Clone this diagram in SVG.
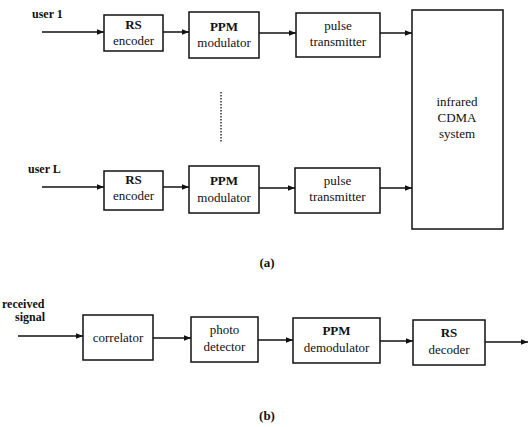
<svg xmlns="http://www.w3.org/2000/svg" width="528" height="427" viewBox="0 0 528 427">
<style>
  .box { fill: #fff; stroke: #111; stroke-width: 1.5; }
  .lbl { font-family: "Liberation Serif", "Times New Roman", serif; font-size: 13px; fill: #111; text-anchor: middle; }
  .b { font-weight: bold; }
  .side { font-family: "Liberation Serif", "Times New Roman", serif; font-size: 12px; fill: #111; font-weight: bold; }
  .conn { stroke: #111; stroke-width: 1.5; fill: none; marker-end: url(#ah); }
</style>
<defs>
  <marker id="ah" viewBox="0 0 10 10" refX="10" refY="5" markerWidth="7" markerHeight="7" markerUnits="userSpaceOnUse" orient="auto">
    <path d="M0,1 L10,5 L0,9 Z" fill="#111"/>
  </marker>
</defs>
<rect width="528" height="427" fill="#fff"/>

<g id="connectors">
  <line class="conn" x1="42" y1="32" x2="104" y2="32"/>
  <line class="conn" x1="163" y1="32" x2="189" y2="32"/>
  <line class="conn" x1="259" y1="33" x2="296" y2="33"/>
  <line class="conn" x1="380" y1="33" x2="412" y2="33"/>
  <line class="conn" x1="42" y1="187" x2="104" y2="187"/>
  <line class="conn" x1="163" y1="187" x2="189" y2="187"/>
  <line class="conn" x1="259" y1="188" x2="295" y2="188"/>
  <line class="conn" x1="380" y1="188" x2="412" y2="188"/>
  <line x1="221" y1="92" x2="221" y2="143" stroke="#111" stroke-width="1.3" stroke-dasharray="1.5,1.5"/>
  <line class="conn" x1="18" y1="336" x2="83" y2="336"/>
  <line class="conn" x1="153" y1="338" x2="191" y2="338"/>
  <line class="conn" x1="258" y1="340" x2="293" y2="340"/>
  <line class="conn" x1="380" y1="341" x2="413" y2="341"/>
  <line class="conn" x1="485" y1="342" x2="528" y2="342"/>
</g>

<g id="user1"><text class="side" x="32" y="18">user 1</text></g>
<g id="userL"><text class="side" x="28" y="173">user  L</text></g>
<g id="received"><text class="side" x="2" y="308">received</text><text class="side" x="15" y="321">signal</text></g>

<g id="rs-enc-1"><rect class="box" x="104" y="15" width="59" height="36"/>
  <text class="lbl b" x="133.5" y="29">RS</text><text class="lbl" x="133.5" y="45">encoder</text></g>
<g id="ppm-mod-1"><rect class="box" x="189" y="12" width="70" height="46"/>
  <text class="lbl b" x="224" y="31">PPM</text><text class="lbl" x="224" y="47">modulator</text></g>
<g id="pulse-tx-1"><rect class="box" x="296" y="13" width="84" height="44"/>
  <text class="lbl" x="338" y="30">pulse</text><text class="lbl" x="338" y="46">transmitter</text></g>

<g id="rs-enc-L"><rect class="box" x="104" y="171" width="59" height="39"/>
  <text class="lbl b" x="133.5" y="184">RS</text><text class="lbl" x="133.5" y="200">encoder</text></g>
<g id="ppm-mod-L"><rect class="box" x="189" y="166" width="70" height="47"/>
  <text class="lbl b" x="224" y="185">PPM</text><text class="lbl" x="224" y="202">modulator</text></g>
<g id="pulse-tx-L"><rect class="box" x="295" y="168" width="85" height="45"/>
  <text class="lbl" x="337.5" y="185">pulse</text><text class="lbl" x="337.5" y="201">transmitter</text></g>

<g id="infrared"><rect class="box" x="412" y="10" width="91" height="219"/>
  <text class="lbl" x="457" y="106">infrared</text><text class="lbl" x="457" y="122">CDMA</text><text class="lbl" x="457" y="138">system</text></g>

<g id="label-a"><text class="lbl b" x="267" y="267">(a)</text></g>

<g id="correlator"><rect class="box" x="83" y="315" width="70" height="45"/>
  <text class="lbl" x="118" y="342">correlator</text></g>
<g id="photo"><rect class="box" x="191" y="317" width="67" height="45"/>
  <text class="lbl" x="224.5" y="334">photo</text><text class="lbl" x="224.5" y="351">detector</text></g>
<g id="ppm-demod"><rect class="box" x="293" y="318" width="87" height="45"/>
  <text class="lbl b" x="336.5" y="335">PPM</text><text class="lbl" x="336.5" y="352">demodulator</text></g>
<g id="rs-dec"><rect class="box" x="413" y="320" width="72" height="45"/>
  <text class="lbl b" x="449" y="337">RS</text><text class="lbl" x="449" y="354">decoder</text></g>

<g id="label-b"><text class="lbl b" x="267" y="420">(b)</text></g>
</svg>
